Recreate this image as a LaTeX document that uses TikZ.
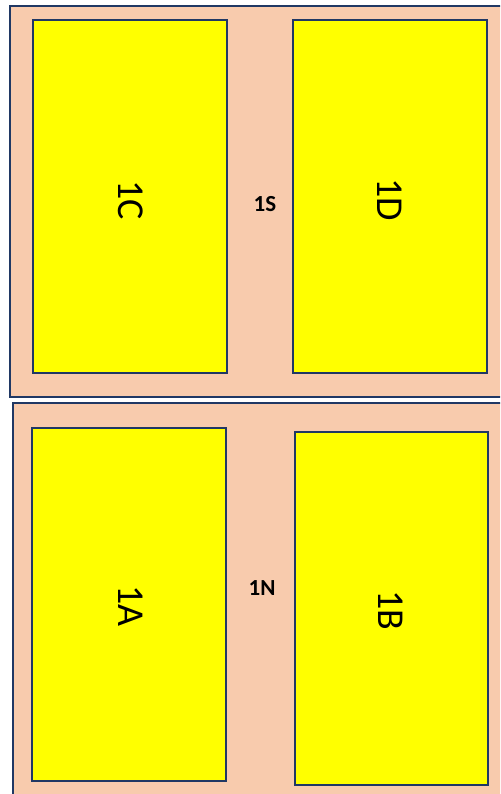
\documentclass[tikz,border=0pt]{standalone}
\usepackage{fontspec}
\setmainfont{Carlito}
\definecolor{peach}{HTML}{F8CBAD}
\definecolor{navy}{HTML}{203864}
\definecolor{bayyellow}{RGB}{255,255,0}
\tikzset{
  zone/.style={draw=navy, fill=peach, line width=2.2pt},
  bay/.style={draw=navy, fill=bayyellow, line width=2.2pt},
  baylabel/.style={font=\fontsize{38}{40}\selectfont, rotate=-90, inner sep=0pt},
  aisle/.style={font=\bfseries\fontsize{23}{25}\selectfont, inner sep=0pt}
}
\begin{document}
\begin{tikzpicture}[x=1pt,y=-1pt]
\useasboundingbox (0,0) rectangle (500,794);
\clip (0,0) rectangle (500,794);
\fill[white] (0,0) rectangle (500,794);
% zones
\draw[zone] (10,6) rectangle (520,397);
\draw[zone] (13,403) rectangle (520,820);
% bays
\draw[bay] (33,20) rectangle (227,373);
\draw[bay] (293,20) rectangle (487,373);
\draw[bay] (32,428) rectangle (226,781);
\draw[bay] (295,432) rectangle (488,785);
% labels
\node[baylabel] (c) at (131,200) {1C};
\node[baylabel] (d) at (390,200) {1D};
\node[baylabel] (a) at (131,606) {1A};
\node[baylabel] (b) at (391,610) {1B};
\node[aisle] (s) at (265,204) {1S};
\node[aisle] (n) at (262,588) {1N};
\end{tikzpicture}
\end{document}
